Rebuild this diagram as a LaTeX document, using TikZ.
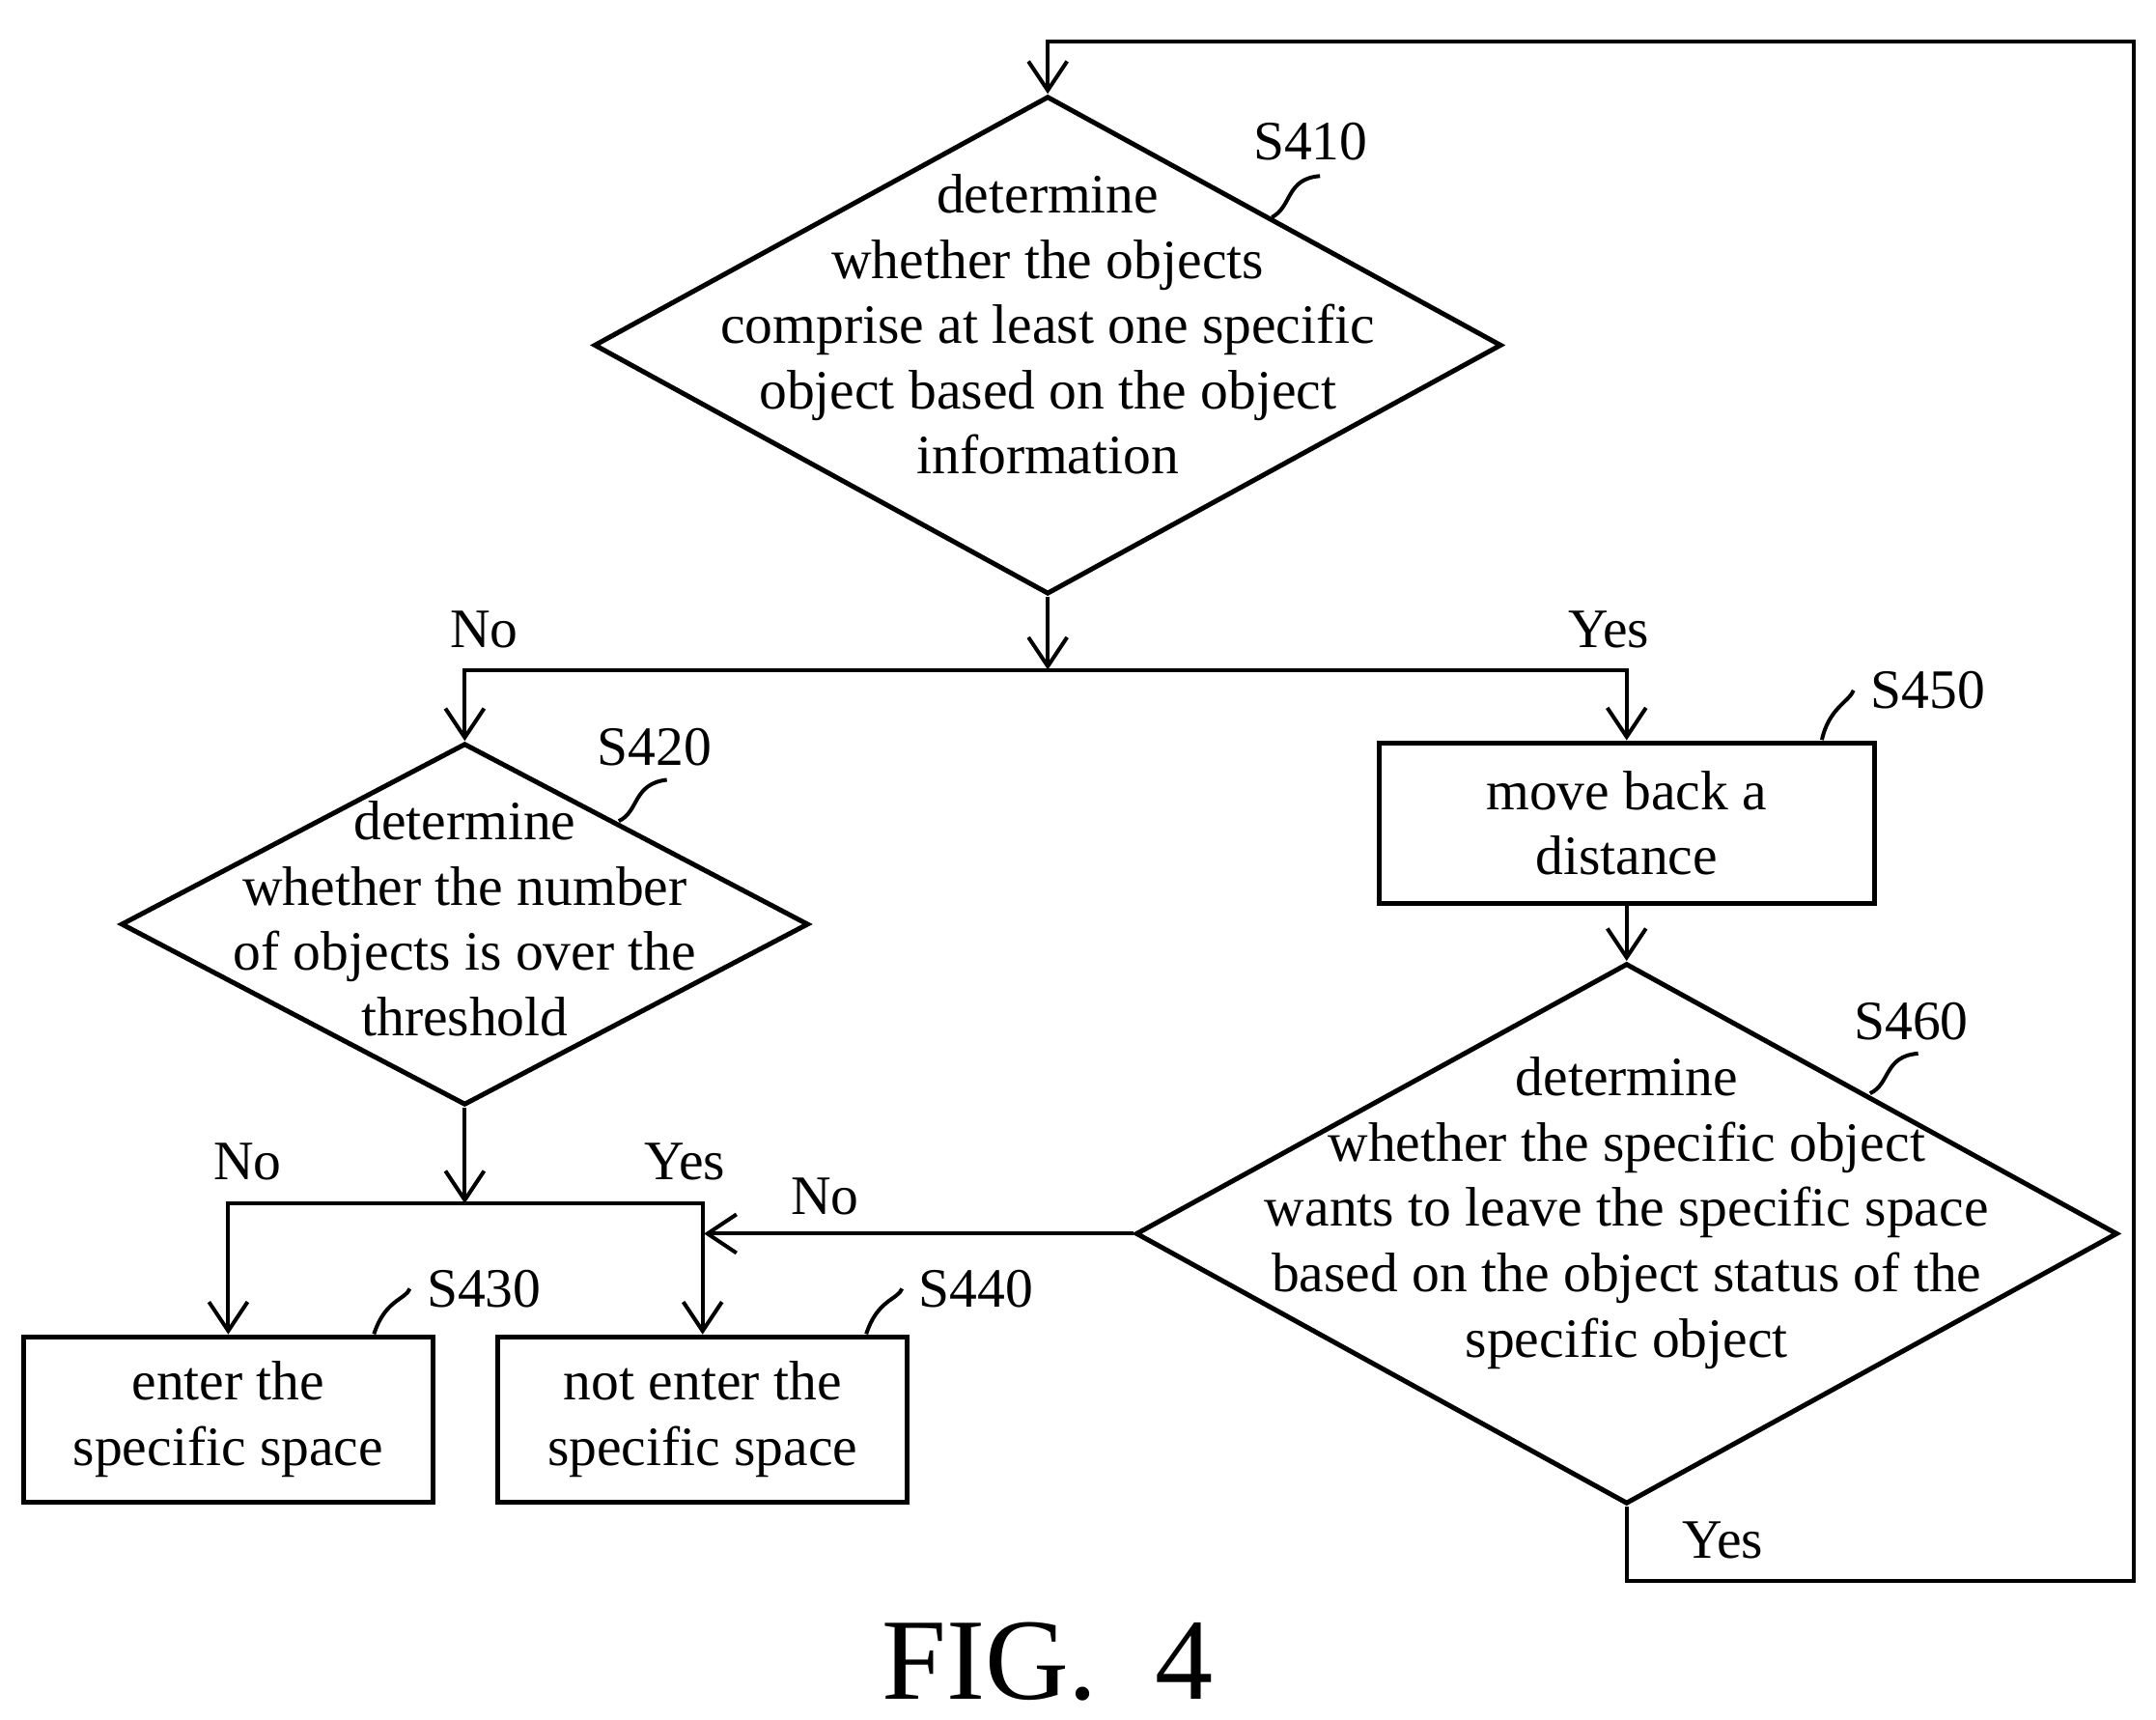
\documentclass[tikz,border=0pt]{standalone}
\usepackage{fontspec}
\setmainfont{Liberation Serif}
\usetikzlibrary{shapes.geometric,arrows.meta}
\tikzset{
	box/.style={draw, line width=1pt, inner sep=0pt},
	dia/.style={diamond, draw, line width=1pt, inner sep=0pt},
	txt/.style={align=center, font=\fontsize{11.5}{13.5}\selectfont},
	lbl/.style={font=\fontsize{11.5}{13.5}\selectfont},
	arr/.style={-{Straight Barb[length=6pt,width=8pt]}, line width=0.8pt},
	ln/.style={line width=0.8pt}
}
\begin{document}
\begin{tikzpicture}
	\useasboundingbox (0, 0) rectangle (15.68, 12.5);
	% decisions
	\node[dia, minimum width=6.6cm, minimum height=3.62cm] (s410) at (7.62, 9.99) {};
	\node[txt] at (7.62, 10.14) {determine\\whether the objects\\comprise at least one specific\\object based on the object\\information};
	\node[dia, minimum width=5cm, minimum height=2.63cm] (s420) at (3.38, 5.78) {};
	\node[txt] at (3.38, 5.82) {determine\\whether the number\\of objects is over the\\threshold};
	\node[dia, minimum width=7.14cm, minimum height=3.93cm] (s460) at (11.83, 3.53) {};
	\node[txt] at (11.83, 3.68) {determine\\whether the specific object\\wants to leave the specific space\\based on the object status of the\\specific object};
	% actions
	\node[box, minimum width=3.6cm, minimum height=1.17cm, txt] (s450) at (11.83, 6.515) {move back a\\distance};
	\node[box, minimum width=2.98cm, minimum height=1.2cm, txt] (s430) at (1.66, 2.18) {enter the\\specific space};
	\node[box, minimum width=2.98cm, minimum height=1.2cm, txt] (s440) at (5.11, 2.18) {not enter the\\specific space};
	% junctions
	\coordinate (j1) at (7.62, 7.63);
	\coordinate (j2) at (3.38, 3.75);
	\coordinate (j3) at (5.12, 3.53);
	\coordinate (top) at (7.62, 12.2);
	% connectors
	\draw[arr] (s410.south) -- (j1);
	\draw[arr] (j1) -| (s420.north);
	\draw[arr] (j1) -| (s450.north);
	\draw[arr] (s450.south) -- (s460.north);
	\draw[arr] (s420.south) -- (j2);
	\draw[arr] (j2) -| (s430.north);
	\draw[arr] (j2) -| (s440.north);
	\draw[arr] (s460.west) -- (j3);
	\draw[arr] (s460.south) -- ++(0, -0.54) -| (15.52, 12.2) -- (top) -- (s410.north);
	% branch labels
	\node[lbl] (n1) at (3.52, 7.92) {No};
	\node[lbl] (y1) at (11.70, 7.92) {Yes};
	\node[lbl] (n2) at (1.80, 4.05) {No};
	\node[lbl] (y2) at (4.98, 4.05) {Yes};
	\node[lbl] (n3) at (6.00, 3.80) {No};
	\node[lbl] (y3) at (12.53, 1.30) {Yes};
	% step labels
	\node[lbl] (l410) at (9.53, 11.47) {S410};
	\node[lbl] (l420) at (4.76, 7.07) {S420};
	\node[lbl] (l450) at (14.02, 7.48) {S450};
	\node[lbl] (l460) at (13.90, 5.07) {S460};
	\node[lbl] (l430) at (3.52, 3.13) {S430};
	\node[lbl] (l440) at (7.10, 3.13) {S440};
	\draw[ln] (9.25, 10.92) .. controls (9.40, 11.0) and (9.35, 11.20) .. (9.60, 11.22);
	\draw[ln] (4.50, 6.53) .. controls (4.65, 6.6) and (4.60, 6.80) .. (4.85, 6.83);
	\draw[ln] (13.25, 7.12) .. controls (13.30, 7.35) and (13.45, 7.40) .. (l450.west);
	\draw[ln] (13.60, 4.55) .. controls (13.75, 4.62) and (13.70, 4.82) .. (13.95, 4.84);
	\draw[ln] (2.72, 2.80) .. controls (2.80, 3.05) and (2.95, 3.05) .. (l430.west);
	\draw[ln] (6.30, 2.80) .. controls (6.38, 3.05) and (6.53, 3.05) .. (l440.west);
	% caption
	\node[font=\fontsize{24}{28}\selectfont] (fig) at (7.62, 0.42) {FIG.\ \ 4};
\end{tikzpicture}
\end{document}
